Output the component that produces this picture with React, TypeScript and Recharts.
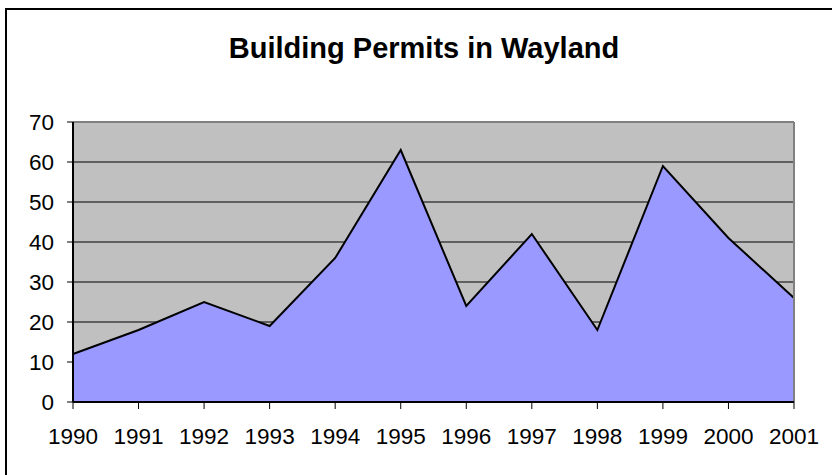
import { Area, AreaChart, CartesianGrid, ReferenceLine, XAxis, YAxis } from 'recharts'

const years = ['1990', '1991', '1992', '1993', '1994', '1995', '1996', '1997', '1998', '1999', '2000', '2001']
const permits = [12, 18, 25, 19, 36, 63, 24, 42, 18, 59, 41, 26]
const yTicks = [0, 10, 20, 30, 40, 50, 60, 70]

const data = years.map((year, i) => ({ year, permits: permits[i] }))

const FONT = '"Liberation Sans", Arial, sans-serif'

export default function App() {
  return (
    <div
      style={{
        position: 'absolute',
        left: 0,
        top: 0,
        width: 832,
        height: 475,
        overflow: 'hidden',
        background: '#fff',
        fontFamily: FONT,
      }}
    >
      <div
        style={{
          position: 'absolute',
          left: 5,
          top: 8,
          width: 900,
          height: 600,
          border: '2px solid #000',
          boxSizing: 'border-box',
        }}
      />
      <div
        style={{
          position: 'absolute',
          left: 0,
          top: 32,
          width: 848,
          textAlign: 'center',
          fontSize: 29,
          fontWeight: 'bold',
          color: '#000',
          whiteSpace: 'nowrap',
        }}
      >
        Building Permits in Wayland
      </div>
      <AreaChart
        width={832}
        height={475}
        data={data}
        margin={{ top: 122, right: 38, left: 0, bottom: 0 }}
        style={{ position: 'absolute', left: 0, top: 0 }}
      >
        <CartesianGrid vertical={false} fill="#C0C0C0" stroke="#000" strokeOpacity={1} />
        <XAxis
          dataKey="year"
          height={73}
          axisLine={{ stroke: '#000', strokeWidth: 2 }}
          tickLine={{ stroke: '#000' }}
          tickSize={7}
          tickMargin={19}
          interval={0}
          tick={{ fontSize: 22.5, fill: '#000', fontFamily: FONT }}
        />
        <YAxis
          domain={[0, 70]}
          ticks={yTicks}
          width={73}
          axisLine={{ stroke: '#000', strokeWidth: 2 }}
          tickLine={{ stroke: '#000' }}
          tickSize={6}
          tickMargin={13}
          tick={{ fontSize: 22.5, fill: '#000', fontFamily: FONT }}
        />
        <ReferenceLine y={70} stroke="#808080" strokeWidth={2} />
        <ReferenceLine x="2001" stroke="#808080" strokeWidth={2} />
        <Area
          type="linear"
          dataKey="permits"
          stroke="#000"
          strokeWidth={2}
          fill="#9999FF"
          fillOpacity={1}
          dot={false}
          activeDot={false}
          isAnimationActive={false}
        />
      </AreaChart>
    </div>
  )
}
